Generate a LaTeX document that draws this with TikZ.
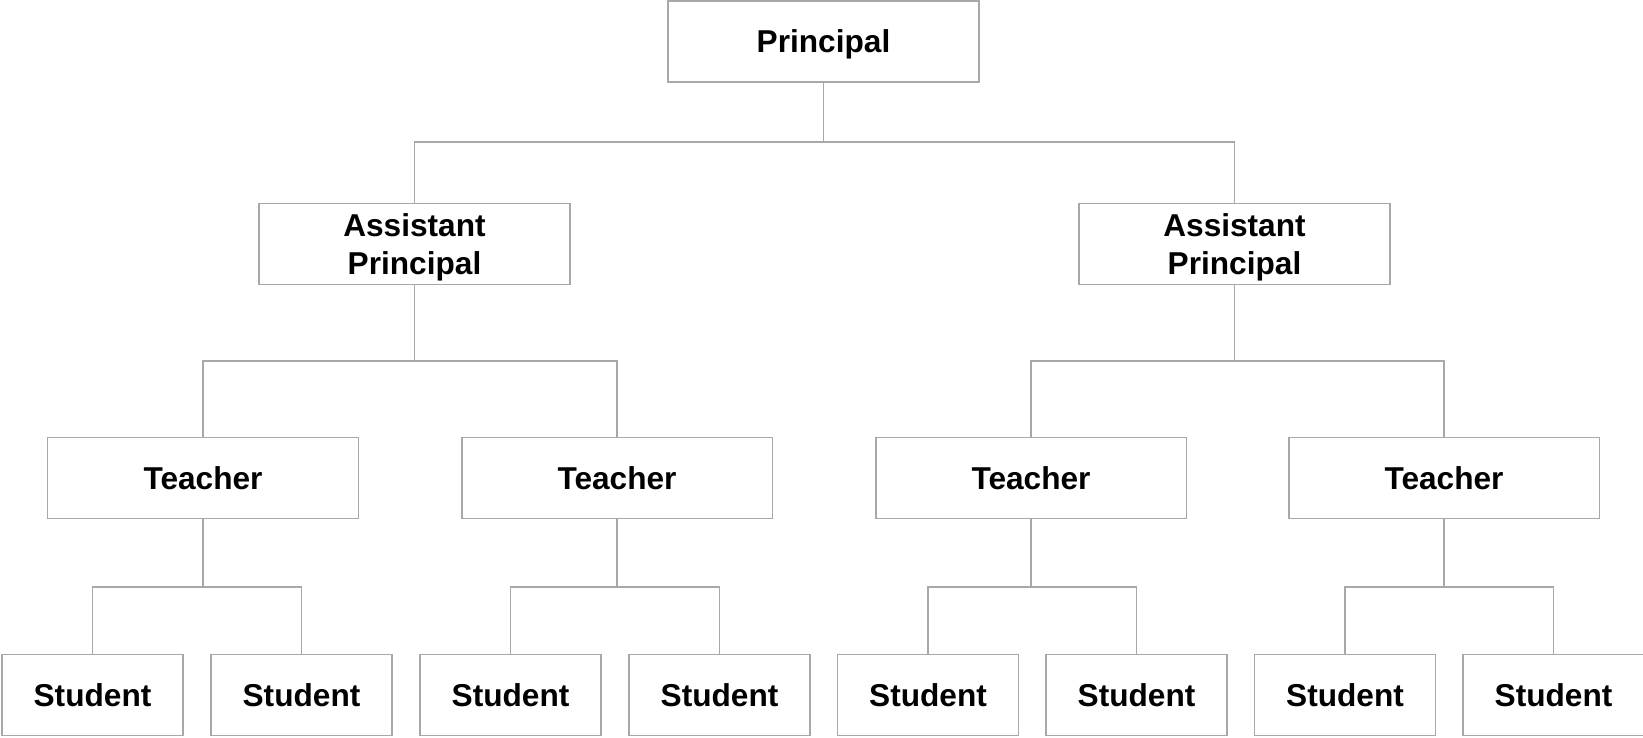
\documentclass[tikz,border=0pt]{standalone}
\usepackage{fontspec}
\setmainfont{Liberation Sans}
\usetikzlibrary{positioning,calc}
\definecolor{boxgray}{RGB}{168,168,168}

\tikzset{
  rolebox/.style={rectangle, draw=boxgray, line width=1.1pt, fill=white, minimum width=6.22cm, minimum height=1.62cm, align=center, inner sep=0pt, text height=12.9pt, text depth=0pt, font=\fontsize{18}{22}\selectfont\bfseries},
  twoline/.style={text height=34.9pt},
  studentbox/.style={rolebox, minimum width=3.62cm},
  link/.style={draw=boxgray, line width=1.1pt}
}

\begin{document}
\begin{tikzpicture}[x=0.02cm, y=-0.02cm]
    \useasboundingbox (0,0) rectangle (1643,737);

    % Principal
    \node[rolebox] (principal) at (823.5,41.5) {Principal};

    % Assistant principals
    \node[rolebox, twoline] (apleft) at (414.5,244) {Assistant\\Principal};
    \node[rolebox, twoline] (apright) at (1234.5,244) {Assistant\\Principal};

    % Teachers
    \node[rolebox] (teacherA) at (203,478) {Teacher};
    \node[rolebox] (teacherB) at (617,478) {Teacher};
    \node[rolebox] (teacherC) at (1031,478) {Teacher};
    \node[rolebox] (teacherD) at (1444,478) {Teacher};

    % Students
    \node[studentbox] (studentA1) at (92.5,695) {Student};
    \node[studentbox] (studentA2) at (301.5,695) {Student};
    \node[studentbox] (studentB1) at (510.5,695) {Student};
    \node[studentbox] (studentB2) at (719.5,695) {Student};
    \node[studentbox] (studentC1) at (928,695) {Student};
    \node[studentbox] (studentC2) at (1136.5,695) {Student};
    \node[studentbox] (studentD1) at (1345,695) {Student};
    \node[studentbox] (studentD2) at (1553.5,695) {Student};

    % Principal to assistant principals
    \draw[link] (principal.south) |- ($(apleft.north)+(0,-61)$) -- (apleft.north);
    \draw[link] (principal.south) |- ($(apright.north)+(0,-61)$) -- (apright.north);

    % Assistant principals to teachers
    \draw[link] (apleft.south) |- ($(teacherA.north)+(0,-76)$) -- (teacherA.north);
    \draw[link] (apleft.south) |- ($(teacherB.north)+(0,-76)$) -- (teacherB.north);
    \draw[link] (apright.south) |- ($(teacherC.north)+(0,-76)$) -- (teacherC.north);
    \draw[link] (apright.south) |- ($(teacherD.north)+(0,-76)$) -- (teacherD.north);

    % Teachers to students
    \foreach \t in {A,B,C,D} {
        \draw[link] (teacher\t.south) |- ($(student\t1.north)+(0,-67)$) -- (student\t1.north);
        \draw[link] (teacher\t.south) |- ($(student\t2.north)+(0,-67)$) -- (student\t2.north);
    }
\end{tikzpicture}
\end{document}
